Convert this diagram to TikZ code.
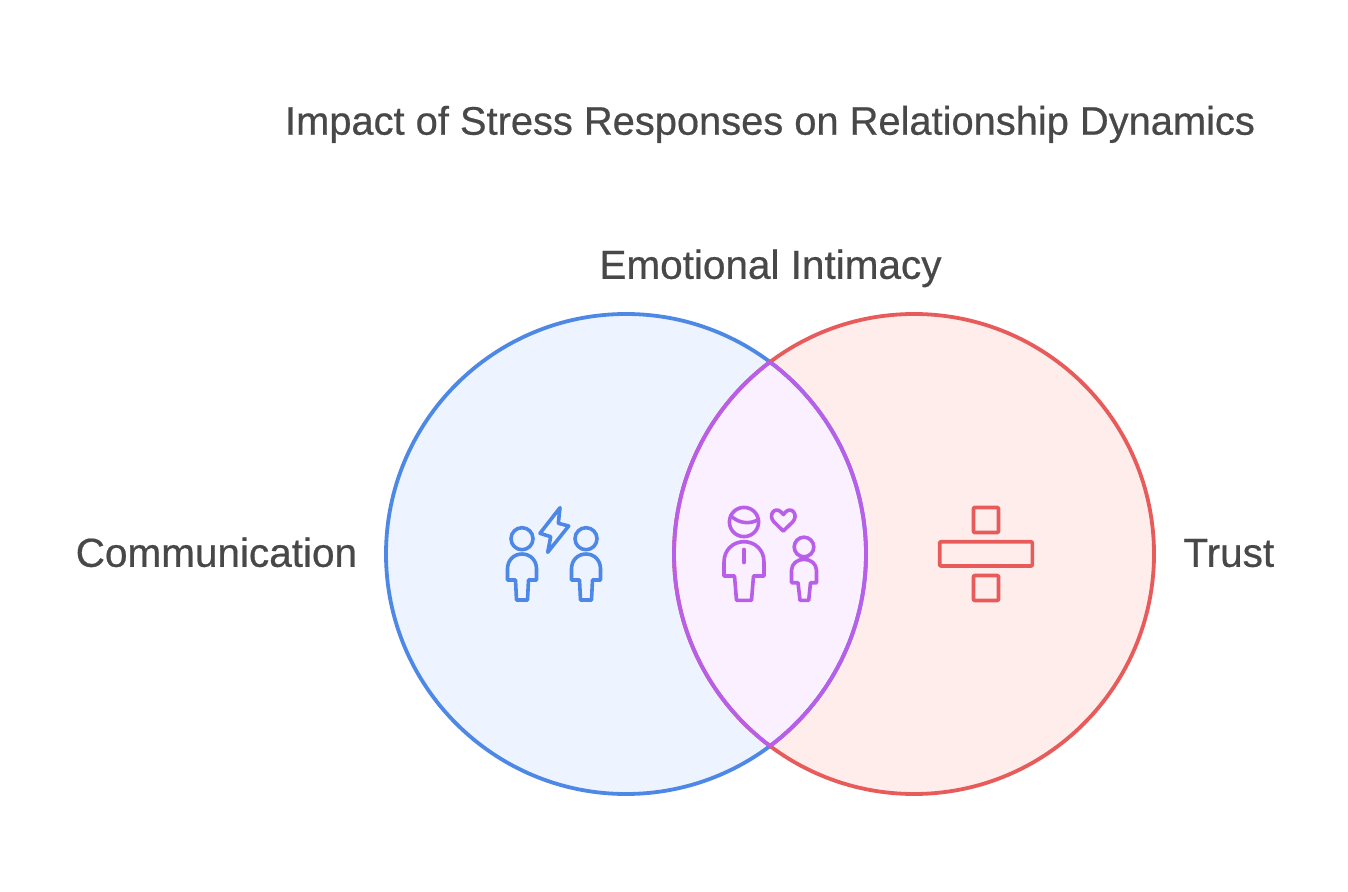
\documentclass[tikz,border=0pt]{standalone}
\usepackage{fontspec}
\setmainfont[FakeBold=0.5]{Liberation Sans}
\definecolor{bluestroke}{HTML}{4E88E7}
\definecolor{bluefill}{HTML}{EDF4FF}
\definecolor{redstroke}{HTML}{E85B5B}
\definecolor{redfill}{HTML}{FEEDEB}
\definecolor{purplestroke}{HTML}{B95EE8}
\definecolor{purplefill}{HTML}{FAF0FF}
\definecolor{inktext}{HTML}{484848}
\tikzset{
  label text/.style={text=inktext,font=\fontsize{20.25}{24}\selectfont,inner sep=0pt,anchor=base},
  title text/.style={label text,font=\fontsize{19.92}{24}\selectfont},
  ring/.style={line width=1.9pt},
  icon/.style={line width=1.8pt,line join=round,line cap=round},
}
\begin{document}
\begin{tikzpicture}[x=0.5pt,y=-0.5pt]
\useasboundingbox (0,0) rectangle (1348,892);
\fill[white] (0,0) rectangle (1348,892);
\coordinate (cb) at (626,554);
\coordinate (cr) at (914,554);
% circles
\fill[bluefill] (cb) circle[radius=120pt];
\fill[redfill] (cr) circle[radius=120pt];
\begin{scope}
  \clip (cb) circle[radius=120pt];
  \fill[purplefill] (cr) circle[radius=120pt];
\end{scope}
\draw[ring,bluestroke] (cb) circle[radius=120pt];
\draw[ring,redstroke] (cr) circle[radius=120pt];
\begin{scope}
  \clip (cb) circle[radius=120pt];
  \draw[ring,purplestroke] (cr) circle[radius=120pt];
\end{scope}
\begin{scope}
  \clip (cr) circle[radius=120pt];
  \draw[ring,purplestroke] (cb) circle[radius=120pt];
\end{scope}
% texts
\node[title text] (title) at (770,134.7) {Impact of Stress Responses on Relationship Dynamics};
\node[label text] (intimacy) at (770.5,278.8) {Emotional Intimacy};
\node[label text,anchor=base east] (comm) at (357.5,566.8) {Communication};
\node[label text,anchor=base west] (trust) at (1183,566.8) {Trust};
% blue icon
\begin{scope}[icon,bluestroke]
  \foreach \dx in {0,64}{
    \begin{scope}[xshift=\dx*0.5pt]
      \draw (522,538.7) circle[radius=5.5pt];
      \draw (507.5,580) -- (507.5,569) .. controls (507.5,560) and (514,554) .. (522,554)
        .. controls (530,554) and (536.5,560) .. (536.5,569) -- (536.5,580) -- (528.5,580)
        -- (527.5,600) -- (516.5,600) -- (515.5,580) -- cycle;
    \end{scope}
  }
  \draw (560,507.7) -- (540,533.3) -- (550.7,536.7) -- (547.7,552.3) -- (568.7,526) -- (558.3,523.3) -- cycle;
\end{scope}
% purple icon
\begin{scope}[icon,purplestroke]
  \draw (744,522) circle[radius=7.3pt];
  \draw (730.5,515.5) .. controls (738,523) and (749,525) .. (758.5,519.5);
  \draw (724,576) -- (724,562) .. controls (724,550) and (733,541.7) .. (744,541.7)
    .. controls (755,541.7) and (764,550) .. (764,562) -- (764,576) -- (753.5,576)
    -- (751.5,600.3) -- (736.5,600.3) -- (734.5,576) -- cycle;
  \draw (744,549.5) -- (744,562.5);
  \draw (783.3,531) -- (774,522) .. controls (767.5,515) and (775,506) .. (781,512)
    -- (783.3,514.5) -- (785.6,512) .. controls (791.6,506) and (799,515) .. (792.6,522) -- cycle;
  \draw (804,547) circle[radius=4.9pt];
  \draw (791.5,582.7) -- (791.5,570.5) .. controls (791.5,564) and (797,559.3) .. (804,559.3)
    .. controls (811,559.3) and (816.5,564) .. (816.5,570.5) -- (816.5,582.7) -- (810.5,582.7)
    -- (808.7,600.3) -- (800,600.3) -- (798,582.7) -- cycle;
\end{scope}
% red icon
\begin{scope}[icon,redstroke,line cap=butt]
  \draw[rounded corners=0.5pt] (973.5,507.5) rectangle (998.5,532.5);
  \draw[rounded corners=0.5pt] (939.7,541.7) rectangle (1032.3,566);
  \draw[rounded corners=0.5pt] (973.5,575.5) rectangle (998.5,600.5);
\end{scope}
\end{tikzpicture}
\end{document}
